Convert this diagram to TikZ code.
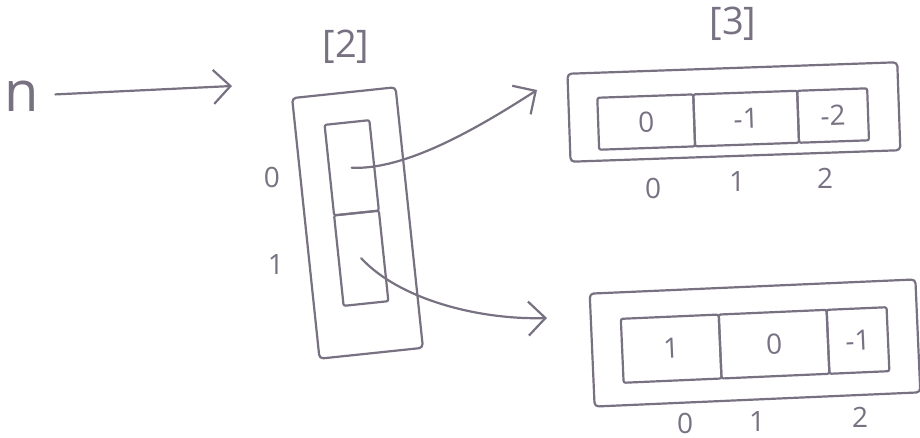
\documentclass[tikz,border=0pt]{standalone}
\usepackage{fontspec}
\setmainfont{Open Sans}
\usetikzlibrary{arrows.meta}
\definecolor{pencil}{RGB}{120,113,130}
\begin{document}
\begin{tikzpicture}[x=1pt,y=-1pt,
  pen/.style={draw=pencil, line width=2.2pt, line cap=round, line join=round},
  boxnode/.style={pen, rounded corners=4pt, inner sep=0pt},
  cellnode/.style={pen, rounded corners=2pt, inner sep=0pt, text=pencil,
    font=\fontsize{28}{28}\selectfont},
  handtext/.style={text=pencil, inner sep=0pt},
  idx/.style={handtext, font=\fontsize{28}{28}\selectfont},
  dimtext/.style={handtext, font=\fontsize{38}{38}\selectfont},
  barb/.style={-{Straight Barb[length=17pt,width=34pt]}}
]
\fill[white] (0,0) rectangle (920,438);
\useasboundingbox (0,0) rectangle (920,438);

% pointer n
\node[handtext, font=\fontsize{56}{56}\selectfont] (n) at (22,96) {n};
\coordinate (nend) at (232,86);
\draw[pen, barb, shorten <=16pt] (n) -- (nend);

% left column array [2]
\node[dimtext] (dim2) at (346,47) {[2]};
\begin{scope}[shift={(357,218)}, rotate=6, transform shape]
  \node[boxnode, minimum width=104pt, minimum height=262pt] (outerA) at (0,5) {};
  \node[cellnode, minimum width=45pt, minimum height=91pt] (a0) at (0,-50.5) {};
  \node[cellnode, minimum width=45pt, minimum height=91pt] (a1) at (0,40.5) {};
\end{scope}
\node[idx] (ia0) at (272,177) {0};
\node[idx] (ia1) at (276,265) {1};

% top right array [3]
\node[dimtext] (dim3) at (733,24) {[3]};
\begin{scope}[shift={(734,115)}, rotate=2, transform shape]
  \node[boxnode, minimum width=330pt, minimum height=88pt] (outerB) at (0,-3) {};
  \node[cellnode, minimum width=96pt, minimum height=52pt] (b0) at (-88,4) {0};
  \node[cellnode, minimum width=104pt, minimum height=52pt] (b1) at (12,4) {-1};
  \node[cellnode, minimum width=70pt, minimum height=52pt] (b2) at (99,4) {-2};
\end{scope}
\node[idx] (ib0) at (653,188) {0};
\node[idx] (ib1) at (737,182) {1};
\node[idx] (ib2) at (825,178) {2};

% bottom right array
\begin{scope}[shift={(755,343)}, rotate=2.5, transform shape]
  \node[boxnode, minimum width=326pt, minimum height=113pt] (outerC) at (0,0) {};
  \node[cellnode, minimum width=98pt, minimum height=64pt] (c0) at (-84,2) {1};
  \node[cellnode, minimum width=108pt, minimum height=64pt] (c1) at (19,2) {0};
  \node[cellnode, minimum width=60pt, minimum height=64pt] (c2) at (103,2) {-1};
\end{scope}
\node[idx] (ic0) at (685,423) {0};
\node[idx] (ic1) at (757,422) {1};
\node[idx] (ic2) at (860,417) {2};

% pointers from cells
\coordinate (t1) at (537,90);
\coordinate (t2) at (547,318);
\draw[pen, barb] (a0.center) .. controls (405,170) and (475,130) .. (t1);
\draw[pen, barb] (a1.center) .. controls (400,300) and (480,320) .. (t2);
\end{tikzpicture}
\end{document}
